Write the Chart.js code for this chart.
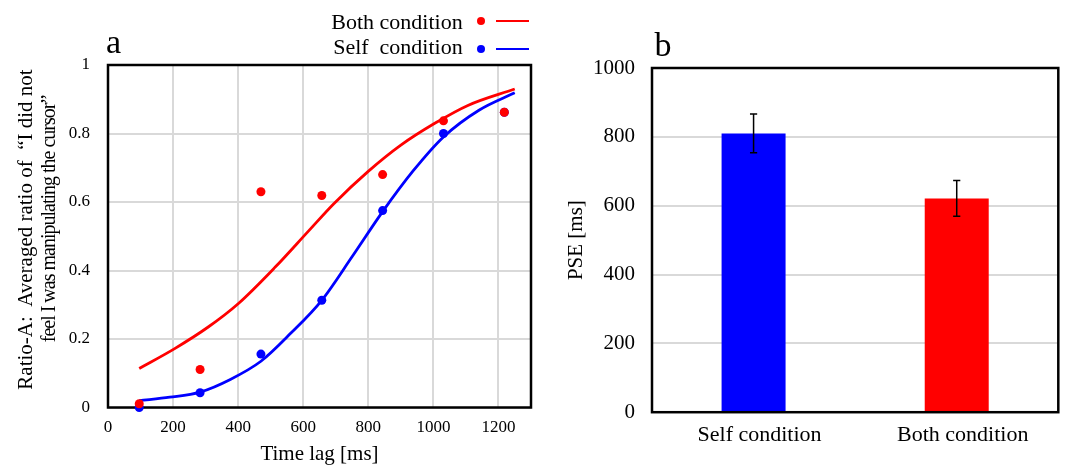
<!DOCTYPE html>
<html>
<head>
<meta charset="utf-8">
<script src="https://cdn.jsdelivr.net/npm/chart.js@4"></script>
<style>
html,body{margin:0;padding:0;background:#fff;}
#wrap{position:relative;width:1072px;height:471px;overflow:hidden;font-family:'Liberation Serif','Times New Roman',serif;color:#000;}
.abs{position:absolute;white-space:pre;line-height:1;}
.ytl{position:absolute;white-space:pre;line-height:1;width:400px;text-align:center;transform:rotate(-90deg);}
#c1box{position:absolute;left:0;top:0;width:540px;height:471px;}
#c2box{position:absolute;left:540px;top:0;width:532px;height:471px;}
.dot{position:absolute;width:8px;height:8px;border-radius:50%;}
.seg{position:absolute;width:33px;height:2.5px;}
</style>
</head>
<body>
<div id="wrap">
  <div id="c1box"><canvas id="c1"></canvas></div>
  <div id="c2box"><canvas id="c2"></canvas></div>

  <div class="abs" style="left:106px;top:24.5px;font-size:34px;">a</div>
  <div class="abs" style="left:654.5px;top:28.2px;font-size:34px;">b</div>

  <div class="abs" style="left:262px;top:10.6px;width:200.7px;text-align:right;font-size:22px;">Both condition</div>
  <div class="abs" style="left:262px;top:35.6px;width:200.7px;text-align:right;font-size:22px;">Self  condition</div>
  <div class="dot" style="left:476.7px;top:17px;background:#ff0000;"></div>
  <div class="seg" style="left:496px;top:19.5px;background:#ff0000;"></div>
  <div class="dot" style="left:476.7px;top:45.3px;background:#0000ff;"></div>
  <div class="seg" style="left:496px;top:47.8px;background:#0000ff;"></div>

  <div class="ytl" style="left:-174.8px;top:218.5px;height:21px;font-size:21px;">Ratio-A:  Averaged ratio of  “I did not</div>
  <div class="ytl" style="left:-152.1px;top:209px;height:20px;font-size:20px;letter-spacing:-1px;">feel I was manipulating the cursor”</div>
</div>
<script>
// ---- Panel a: data ----
const stimulusLags = [96, 283, 470, 657, 844, 1031, 1218];
const bothRatio = [0.011, 0.111, 0.630, 0.619, 0.680, 0.837, 0.862];
const selfRatio = [0.000, 0.043, 0.156, 0.313, 0.575, 0.800, 0.862];

const bothFitLag = [96, 205, 308, 400, 514, 616, 694, 798, 900, 1003, 1106, 1250];
const bothFitRatio = [0.114, 0.172, 0.235, 0.303, 0.410, 0.515, 0.595, 0.688, 0.766, 0.829, 0.882, 0.930];
const selfFitLag = [96, 190, 283, 376, 470, 563, 657, 750, 844, 937, 1031, 1140, 1250];
const selfFitRatio = [0.020, 0.030, 0.045, 0.082, 0.135, 0.218, 0.313, 0.440, 0.572, 0.690, 0.790, 0.868, 0.919];

// ---- Panel b ----
const conditions = ['Self condition', 'Both condition'];
const pseValues = [810, 621];
const pseErrors = [56, 52];

Chart.defaults.font.family = "'Liberation Serif', 'Times New Roman', serif";
Chart.defaults.color = '#000';

const toPts = (xs, ys) => xs.map((x, i) => ({x: x, y: ys[i]}));
const plainTick = (v) => String(v);

const frameUnder = {
  id: 'frameUnder',
  beforeDatasetsDraw(chart) {
    const {ctx, chartArea: a} = chart;
    ctx.save();
    ctx.strokeStyle = '#000';
    ctx.lineWidth = 2.5;
    ctx.strokeRect(a.left, a.top, a.right - a.left, a.bottom - a.top);
    ctx.restore();
  }
};
const frameOver = {
  id: 'frameOver',
  afterDatasetsDraw(chart) {
    const {ctx, chartArea: a} = chart;
    ctx.save();
    ctx.strokeStyle = '#000';
    ctx.lineWidth = 2.5;
    ctx.strokeRect(a.left, a.top, a.right - a.left, a.bottom - a.top);
    ctx.restore();
  }
};
const errorBars = {
  id: 'errorBars',
  afterDatasetsDraw(chart) {
    const ctx = chart.ctx;
    const meta = chart.getDatasetMeta(0);
    const ys = chart.scales.y;
    ctx.save();
    ctx.strokeStyle = '#000';
    ctx.lineWidth = 1.5;
    meta.data.forEach((bar, i) => {
      const x = bar.x;
      const t = ys.getPixelForValue(pseValues[i] + pseErrors[i]);
      const b = ys.getPixelForValue(pseValues[i] - pseErrors[i]);
      ctx.beginPath();
      ctx.moveTo(x, t); ctx.lineTo(x, b);
      ctx.moveTo(x - 3.6, t); ctx.lineTo(x + 3.6, t);
      ctx.moveTo(x - 3.6, b); ctx.lineTo(x + 3.6, b);
      ctx.stroke();
    });
    ctx.restore();
  }
};

new Chart(document.getElementById('c1'), {
  type: 'scatter',
  data: {
    datasets: [
      {label: 'Both condition', data: toPts(stimulusLags, bothRatio), backgroundColor: '#ff0000', borderWidth: 0, pointRadius: 4.5, clip: false, showLine: false},
      {label: 'Self condition', data: toPts(stimulusLags, selfRatio), backgroundColor: '#0000ff', borderWidth: 0, pointRadius: 4.5, clip: false, showLine: false},
      {label: 'Both fit', data: toPts(bothFitLag, bothFitRatio), showLine: true, borderColor: '#ff0000', backgroundColor: '#ff0000', borderWidth: 2.8, pointRadius: 0, cubicInterpolationMode: 'monotone', fill: false},
      {label: 'Self fit', data: toPts(selfFitLag, selfFitRatio), showLine: true, borderColor: '#0000ff', backgroundColor: '#0000ff', borderWidth: 2.8, pointRadius: 0, cubicInterpolationMode: 'monotone', fill: false}
    ]
  },
  options: {
    responsive: true, maintainAspectRatio: false, animation: false, events: [],
    layout: {padding: {left: 0, right: 9, top: 65, bottom: 0}},
    plugins: {legend: {display: false}, tooltip: {enabled: false}},
    scales: {
      x: {
        type: 'linear', min: 0, max: 1300,
        ticks: {stepSize: 200, includeBounds: false, color: '#000', font: {size: 17}, padding: 10, maxRotation: 0, autoSkip: false, callback: plainTick},
        grid: {color: '#d9d9d9', lineWidth: 2, drawTicks: false},
        border: {display: false},
        title: {display: true, text: 'Time lag [ms]', color: '#000', font: {size: 21}, padding: {top: 0, bottom: 4}},
        afterFit(s) { s.height = 63.5; }
      },
      y: {
        min: 0, max: 1,
        ticks: {stepSize: 0.2, color: '#000', font: {size: 17}, padding: 18, callback: plainTick},
        grid: {color: '#d9d9d9', lineWidth: 2, drawTicks: false},
        border: {display: false},
        afterFit(s) { s.width = 108; }
      }
    }
  },
  plugins: [frameUnder]
});

new Chart(document.getElementById('c2'), {
  type: 'bar',
  data: {
    labels: conditions,
    datasets: [{label: 'PSE', data: pseValues, backgroundColor: ['#0000ff', '#ff0000'], borderWidth: 0, barPercentage: 0.315, categoryPercentage: 1}]
  },
  options: {
    responsive: true, maintainAspectRatio: false, animation: false, events: [],
    layout: {padding: {left: 0, right: 13.7, top: 68, bottom: 0}},
    plugins: {legend: {display: false}, tooltip: {enabled: false}},
    scales: {
      x: {
        grid: {display: false, drawTicks: false},
        border: {display: false},
        ticks: {color: '#000', font: {size: 22}, padding: 9.5, labelOffset: 6, maxRotation: 0},
        afterFit(s) { s.height = 58.8; }
      },
      y: {
        min: 0, max: 1000,
        ticks: {stepSize: 200, color: '#000', font: {size: 21}, padding: 17, callback: plainTick},
        grid: {color: '#d9d9d9', lineWidth: 2, drawTicks: false},
        border: {display: false},
        title: {display: true, text: 'PSE [ms]', color: '#000', font: {size: 21}, padding: {top: 23.5, bottom: 0}},
        afterFit(s) { s.width = 112; }
      }
    }
  },
  plugins: [frameOver, errorBars]
});
</script>
</body>
</html>
